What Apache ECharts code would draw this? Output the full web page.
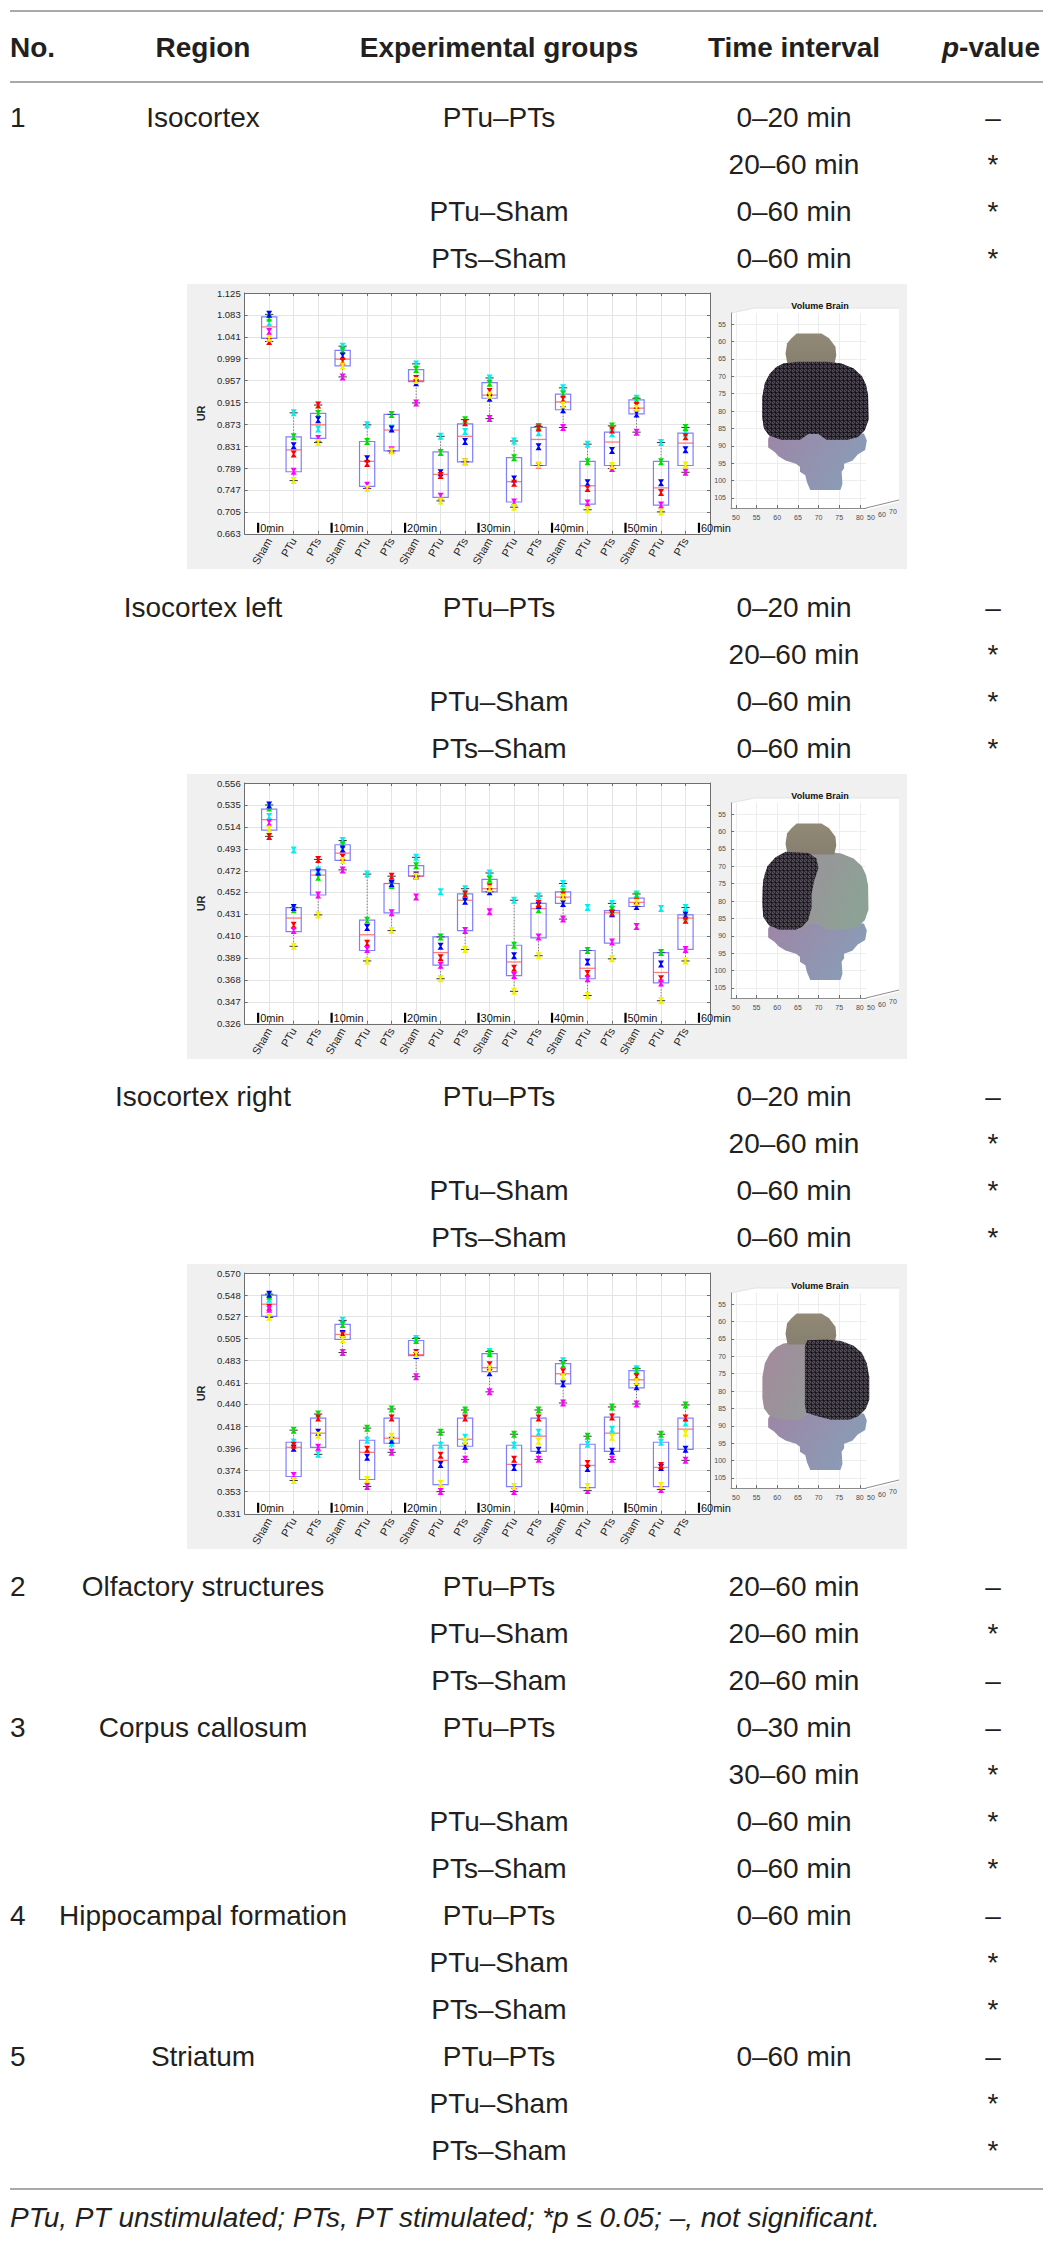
<!DOCTYPE html>
<html><head><meta charset="utf-8">
<script src="https://cdn.jsdelivr.net/npm/echarts@6/dist/echarts.min.js"></script>
<style>
html,body{margin:0;padding:0;background:#fff;}
body{width:1050px;height:2244px;position:relative;overflow:hidden;font-family:"Liberation Sans",Arial,Helvetica,sans-serif;color:#231f20;}
.t{position:absolute;white-space:nowrap;font-size:28px;line-height:34px;height:34px;}
.c{transform:translateX(-50%);}
.h{font-weight:bold;}
.rule{position:absolute;left:10px;width:1033px;height:2px;background:#a9a9a9;}
.panel{position:absolute;left:187px;width:720px;height:285px;}
</style></head><body>
<script>
// ---------------- table text ----------------
const headers = ['No.', 'Region', 'Experimental groups', 'Time interval', '<i>p</i>-value'];
const rowsIso = [
  ['1', 'Isocortex', 'PTu–PTs', '0–20 min', '–'],
  ['', '', '', '20–60 min', '*'],
  ['', '', 'PTu–Sham', '0–60 min', '*'],
  ['', '', 'PTs–Sham', '0–60 min', '*']
];
const rowsIsoLeft = [
  ['', 'Isocortex left', 'PTu–PTs', '0–20 min', '–'],
  ['', '', '', '20–60 min', '*'],
  ['', '', 'PTu–Sham', '0–60 min', '*'],
  ['', '', 'PTs–Sham', '0–60 min', '*']
];
const rowsIsoRight = [
  ['', 'Isocortex right', 'PTu–PTs', '0–20 min', '–'],
  ['', '', '', '20–60 min', '*'],
  ['', '', 'PTu–Sham', '0–60 min', '*'],
  ['', '', 'PTs–Sham', '0–60 min', '*']
];
const rowsRest = [
  ['2', 'Olfactory structures', 'PTu–PTs', '20–60 min', '–'],
  ['', '', 'PTu–Sham', '20–60 min', '*'],
  ['', '', 'PTs–Sham', '20–60 min', '–'],
  ['3', 'Corpus callosum', 'PTu–PTs', '0–30 min', '–'],
  ['', '', '', '30–60 min', '*'],
  ['', '', 'PTu–Sham', '0–60 min', '*'],
  ['', '', 'PTs–Sham', '0–60 min', '*'],
  ['4', 'Hippocampal formation', 'PTu–PTs', '0–60 min', '–'],
  ['', '', 'PTu–Sham', '', '*'],
  ['', '', 'PTs–Sham', '', '*'],
  ['5', 'Striatum', 'PTu–PTs', '0–60 min', '–'],
  ['', '', 'PTu–Sham', '', '*'],
  ['', '', 'PTs–Sham', '', '*']
];
const footnote = 'PTu, PT unstimulated; PTs, PT stimulated; *p ≤ 0.05; –, not significant.';

// ---------------- chart data ----------------
const categories = ['Sham','PTu','PTs','Sham','PTu','PTs','Sham','PTu','PTs','Sham','PTu','PTs','Sham','PTu','PTs','Sham','PTu','PTs'];
const timeLabels = ['0min','10min','20min','30min','40min','50min','60min'];
const subjectColors = ['#00f0f0','#00e000','#0000ff','#ff0000','#ff00ff','#f2f200'];

// Panel 1: Isocortex
const ticks1 = ['0.663','0.705','0.747','0.789','0.831','0.873','0.915','0.957','0.999','1.041','1.083','1.125'];
const q3_1  = [1.079,0.849,0.894,1.015,0.840,0.892,0.978,0.820,0.874,0.953,0.809,0.867,0.931,0.802,0.858,0.920,0.802,0.856];
const med_1 = [1.060,0.824,0.872,0.998,0.802,0.862,0.957,0.777,0.850,0.929,0.763,0.844,0.916,0.755,0.839,0.904,0.751,0.837];
const q1_1  = [1.038,0.782,0.846,0.985,0.754,0.822,0.955,0.733,0.801,0.923,0.724,0.794,0.901,0.720,0.794,0.893,0.718,0.794];
const hi_1  = [1.084,0.895,0.910,1.023,0.872,0.892,0.989,0.850,0.882,0.962,0.841,0.869,0.943,0.835,0.870,0.923,0.838,0.867];
const lo_1  = [1.032,0.765,0.838,0.964,0.750,0.822,0.914,0.726,0.801,0.884,0.714,0.794,0.867,0.709,0.788,0.858,0.705,0.781];
const cyan_1    = [1.068,0.895,0.864,1.023,0.872,0.866,0.989,0.850,0.859,0.962,0.841,0.857,0.943,0.835,0.855,0.923,0.838,0.856];
const green_1   = [1.077,0.849,0.894,1.015,0.840,0.892,0.978,0.819,0.882,0.952,0.809,0.869,0.931,0.801,0.870,0.919,0.801,0.867];
const blue_1    = [1.084,0.832,0.882,1.004,0.807,0.864,0.953,0.780,0.840,0.923,0.768,0.830,0.901,0.761,0.823,0.893,0.761,0.824];
const red_1     = [1.032,0.816,0.910,0.994,0.798,0.823,0.961,0.775,0.876,0.936,0.760,0.866,0.921,0.750,0.862,0.909,0.742,0.849];
const magenta_1 = [1.051,0.783,0.846,0.964,0.756,0.824,0.914,0.735,0.801,0.884,0.724,0.794,0.867,0.722,0.788,0.858,0.718,0.781];
const yellow_1  = [1.038,0.765,0.838,0.985,0.750,0.822,0.957,0.726,0.801,0.929,0.714,0.795,0.910,0.709,0.794,0.904,0.705,0.795];

// Panel 2: Isocortex left
const ticks2 = ['0.326','0.347','0.368','0.389','0.410','0.431','0.452','0.472','0.493','0.514','0.535','0.556'];
const q3_2  = [0.531,0.437,0.473,0.497,0.425,0.460,0.477,0.409,0.450,0.464,0.401,0.441,0.452,0.396,0.434,0.446,0.394,0.430];
const med_2 = [0.521,0.427,0.468,0.489,0.411,0.460,0.467,0.394,0.444,0.455,0.385,0.436,0.447,0.379,0.432,0.442,0.375,0.427];
const q1_2  = [0.511,0.414,0.449,0.482,0.396,0.432,0.467,0.382,0.415,0.452,0.372,0.408,0.441,0.369,0.403,0.438,0.365,0.397];
const hi_2  = [0.535,0.437,0.483,0.501,0.469,0.467,0.485,0.409,0.455,0.470,0.444,0.448,0.460,0.396,0.441,0.450,0.394,0.437];
const lo_2  = [0.505,0.400,0.430,0.473,0.386,0.415,0.467,0.369,0.397,0.452,0.357,0.391,0.426,0.353,0.388,0.438,0.348,0.386];
const cyan_2    = [0.524,0.492,0.473,0.501,0.469,0.459,0.485,0.452,0.455,0.470,0.444,0.448,0.460,0.437,0.441,0.450,0.436,0.437];
const green_2   = [0.532,0.435,0.466,0.497,0.425,0.458,0.477,0.409,0.447,0.464,0.401,0.435,0.452,0.396,0.435,0.448,0.394,0.428];
const blue_2    = [0.535,0.437,0.471,0.493,0.418,0.460,0.468,0.400,0.443,0.452,0.391,0.439,0.441,0.385,0.431,0.438,0.383,0.430];
const red_2     = [0.505,0.420,0.483,0.485,0.403,0.467,0.467,0.389,0.450,0.457,0.379,0.441,0.449,0.374,0.432,0.443,0.369,0.425];
const magenta_2 = [0.518,0.415,0.449,0.473,0.397,0.432,0.447,0.382,0.415,0.433,0.372,0.409,0.426,0.369,0.404,0.419,0.365,0.397];
const yellow_2  = [0.512,0.400,0.430,0.482,0.386,0.415,0.467,0.369,0.397,0.455,0.357,0.391,0.447,0.353,0.388,0.442,0.348,0.386];

// Panel 3: Isocortex right
const ticks3 = ['0.331','0.353','0.374','0.396','0.418','0.440','0.461','0.483','0.505','0.527','0.548','0.570'];
const q3_3  = [0.548,0.402,0.426,0.519,0.404,0.426,0.503,0.399,0.426,0.490,0.399,0.426,0.480,0.400,0.427,0.473,0.402,0.426];
const med_3 = [0.539,0.397,0.411,0.509,0.392,0.406,0.489,0.384,0.405,0.476,0.380,0.408,0.470,0.379,0.411,0.464,0.377,0.415];
const q1_3  = [0.527,0.368,0.397,0.504,0.365,0.401,0.488,0.360,0.398,0.472,0.358,0.393,0.460,0.357,0.393,0.456,0.358,0.395];
const hi_3  = [0.549,0.414,0.430,0.523,0.416,0.435,0.505,0.412,0.434,0.492,0.410,0.434,0.483,0.408,0.437,0.475,0.410,0.439];
const lo_3  = [0.526,0.364,0.390,0.491,0.358,0.392,0.467,0.353,0.385,0.452,0.353,0.385,0.441,0.354,0.385,0.440,0.355,0.384];
const cyan_3    = [0.544,0.402,0.390,0.523,0.404,0.401,0.505,0.399,0.407,0.492,0.399,0.412,0.483,0.400,0.415,0.475,0.402,0.421];
const green_3   = [0.547,0.414,0.430,0.519,0.416,0.435,0.503,0.412,0.434,0.490,0.410,0.434,0.479,0.408,0.437,0.473,0.410,0.439];
const blue_3    = [0.549,0.396,0.412,0.510,0.387,0.404,0.488,0.380,0.398,0.471,0.377,0.394,0.460,0.376,0.393,0.457,0.377,0.395];
const red_3     = [0.536,0.399,0.426,0.509,0.395,0.426,0.491,0.389,0.426,0.479,0.385,0.426,0.472,0.381,0.427,0.467,0.379,0.426];
const magenta_3 = [0.534,0.369,0.397,0.491,0.358,0.392,0.467,0.353,0.385,0.452,0.353,0.385,0.441,0.354,0.385,0.440,0.355,0.384];
const yellow_3  = [0.526,0.364,0.409,0.504,0.365,0.408,0.489,0.361,0.403,0.475,0.358,0.403,0.467,0.358,0.407,0.462,0.359,0.411];

// Brain views (axis coordinates of the MATLAB "Volume Brain" plot)
const brainXTicks = [50,55,60,65,70,75,80];
const brainYTicks = [55,60,65,70,75,80,85,90,95,100,105];
const brainDepthTicks = ['50','60','70'];
const brainLower = [[58.5,86.5],[57.8,88],[57.8,90.5],[59.3,91.7],[60.4,93.1],[62,94.2],[64.5,95.2],[65.5,96],[65.5,97.5],[66.8,98.5],[67.2,100.5],[68,102.7],[75.3,102.7],[75.8,101],[75.6,97.5],[76.2,96.5],[76.2,95.2],[78.2,94.3],[79.5,92.5],[81.3,91.2],[81.7,88.5],[81,86.5]];
const brainCortex = [[61.5,66.3],[65,65.8],[72,65.8],[75.5,66.3],[78.5,67.8],[80.5,70],[81.5,72.5],[82,75.5],[82.1,82.5],[81.2,85.5],[79.5,87.5],[77,88.3],[72,88.3],[70,86.6],[67.5,86.6],[65.5,88.3],[61,88.3],[58,87],[56.8,85],[56.4,82],[56.4,76],[57,72],[58.2,69.3],[59.8,67.3]];
const brainOlfactory = [[64.7,57.7],[70.7,57.7],[72.5,59],[74.1,61.5],[74.3,64],[73.8,66.6],[62.5,66.6],[62,63.5],[62.4,60.5],[63.5,59]];
const hemiLeft = [[62,65.8],[67.6,66.2],[69.5,67.8],[70,70.5],[69,74],[68.3,78],[68.3,82],[67.5,85.5],[66,87.5],[64.5,88.3],[60.5,88.3],[58,87],[56.6,84.5],[56.4,80],[56.6,74],[57.6,70],[59.5,67.5]];
const hemiRight = [[67.3,65.4],[72,65.2],[75.5,65.6],[78.5,67],[80.5,69],[81.7,72],[82.3,76],[82.3,82.5],[81.5,85],[79.5,87.3],[77.5,88.3],[73,88.3],[69.5,87.2],[67,86.2],[66.7,84],[66.7,67]];

// ---------------- layout ----------------
const COLX = [10, 203, 499, 794, 993];
const ROW_H = 47;
const blocks = [
  {rows: rowsIso, y: 118},
  {rows: rowsIsoLeft, y: 608},
  {rows: rowsIsoRight, y: 1097},
  {rows: rowsRest, y: 1587}
];
const panelTops = [284, 774, 1264];

function addText(html, x, yc, cls, center) {
  const d = document.createElement('div');
  d.className = 't ' + (cls || '') + (center ? ' c' : '');
  d.style.left = x + 'px';
  d.style.top = (yc - 17) + 'px';
  d.innerHTML = html;
  document.body.appendChild(d);
  return d;
}
function addRule(y) {
  const d = document.createElement('div');
  d.className = 'rule'; d.style.top = (y - 1) + 'px';
  document.body.appendChild(d);
}
addRule(11); addRule(82); addRule(2189);
headers.forEach((h, i) => addText(h, i === 4 ? 991 : COLX[i], 48, 'h', i > 0));
blocks.forEach(b => b.rows.forEach((r, k) => {
  const y = b.y + k * ROW_H;
  r.forEach((cell, i) => { if (cell) addText(cell, COLX[i], y, '', i > 0); });
}));
const fn = addText(footnote, 10, 2218, '', false); fn.style.fontStyle = 'italic';

// hatch pattern for highlighted region
function makeHatch() {
  const cv = document.createElement('canvas'); cv.width = 8; cv.height = 8;
  const g = cv.getContext('2d');
  g.fillStyle = '#4e4654'; g.fillRect(0,0,8,8);
  g.strokeStyle = 'rgba(0,0,0,0.8)'; g.lineWidth = 0.7;
  g.beginPath();
  g.moveTo(0,0.5); g.lineTo(8,0.5); g.moveTo(0,4.5); g.lineTo(8,4.5);
  g.moveTo(0.5,0); g.lineTo(0.5,8); g.moveTo(4.5,0); g.lineTo(4.5,8);
  g.moveTo(0,0); g.lineTo(8,8); g.moveTo(4,0); g.lineTo(8,4); g.moveTo(0,4); g.lineTo(4,8);
  g.stroke();
  return cv.toDataURL();
}
const hatchURL = makeHatch();

const panels = [
  {ticks: ticks1, q3: q3_1, med: med_1, q1: q1_1, hi: hi_1, lo: lo_1,
   subj: [cyan_1, green_1, blue_1, red_1, magenta_1, yellow_1], hemi: brainCortex, full: true},
  {ticks: ticks2, q3: q3_2, med: med_2, q1: q1_2, hi: hi_2, lo: lo_2,
   subj: [cyan_2, green_2, blue_2, red_2, magenta_2, yellow_2], hemi: hemiLeft, full: false},
  {ticks: ticks3, q3: q3_3, med: med_3, q1: q1_3, hi: hi_3, lo: lo_3,
   subj: [cyan_3, green_3, blue_3, red_3, magenta_3, yellow_3], hemi: hemiRight, full: false}
];

const FONT = '"Liberation Sans", Arial, Helvetica, sans-serif';
const AX = '#6e6e6e';
const GRIDC = '#e4e4e4';

panels.forEach((P, pi) => {
  const el = document.createElement('div');
  el.className = 'panel'; el.style.top = panelTops[pi] + 'px';
  document.body.appendChild(el);
  const chart = echarts.init(el, null, {renderer: 'svg', width: 720, height: 285});
  const tv = P.ticks.map(Number);
  const yMin = tv[0], yMax = tv[tv.length - 1];
  const tickFmt = v => { const i = tv.findIndex(t => Math.abs(t - v) < 1e-6); return i >= 0 ? P.ticks[i] : ''; };

  const boxData = categories.map((c, i) => [i + 1, P.lo[i], P.q1[i], P.med[i], P.q3[i], P.hi[i]]);

  const series = [];
  series.push({
    type: 'custom', xAxisIndex: 0, yAxisIndex: 0, z: 2, silent: true,
    encode: {x: 0, y: [1, 5]},
    data: boxData,
    renderItem: (params, api) => {
      const x = api.value(0), lo = api.value(1), q1 = api.value(2), md = api.value(3), q3 = api.value(4), hi = api.value(5);
      const c = (xx, yy) => api.coord([xx, yy]);
      const bl = c(x - 0.31, q1), tr = c(x + 0.31, q3);
      const pLo = c(x, lo), pHi = c(x, hi), pQ1 = c(x, q1), pQ3 = c(x, q3);
      const capL = c(x - 0.17, lo)[0], capR = c(x + 0.17, lo)[0];
      const dash = {stroke: 'rgba(0,0,0,0.45)', lineWidth: 1, lineDash: [1.5, 1.5], fill: null};
      const ch = [];
      if (hi > q3) ch.push({type: 'line', shape: {x1: pQ3[0], y1: pQ3[1], x2: pHi[0], y2: pHi[1]}, style: dash});
      if (lo < q1) ch.push({type: 'line', shape: {x1: pQ1[0], y1: pQ1[1], x2: pLo[0], y2: pLo[1]}, style: dash});
      ch.push({type: 'line', shape: {x1: capL, y1: pHi[1], x2: capR, y2: pHi[1]}, style: {stroke: '#333', lineWidth: 1}});
      ch.push({type: 'line', shape: {x1: capL, y1: pLo[1], x2: capR, y2: pLo[1]}, style: {stroke: '#333', lineWidth: 1}});
      ch.push({type: 'rect', shape: {x: bl[0], y: tr[1], width: tr[0] - bl[0], height: bl[1] - tr[1]},
               style: {fill: null, stroke: 'rgba(60,60,255,0.65)', lineWidth: 1.2}});
      const m1 = c(x - 0.31, md), m2 = c(x + 0.31, md);
      ch.push({type: 'line', shape: {x1: m1[0], y1: m1[1], x2: m2[0], y2: m2[1]}, style: {stroke: 'rgba(255,80,80,0.75)', lineWidth: 1.3}});
      return {type: 'group', children: ch};
    }
  });
  P.subj.forEach((arr, si) => {
    series.push({
      type: 'scatter', xAxisIndex: 0, yAxisIndex: 0, z: 3, silent: true,
      symbol: 'path://M0,0L10,0L6.3,5L10,10L0,10L3.7,5Z', symbolSize: [6, 7],
      itemStyle: {color: subjectColors[si], opacity: 1},
      data: arr.map((v, i) => [i + 1, v])
    });
  });
  series.push({
    type: 'custom', xAxisIndex: 0, yAxisIndex: 0, z: 4, clip: false, silent: true,
    data: timeLabels.map((t, i) => [3 * i + 0.55, yMin]),
    renderItem: (params, api) => {
      const p = api.coord([api.value(0), api.value(1)]);
      return {type: 'group', children: [
        {type: 'line', shape: {x1: p[0], y1: p[1] - 11, x2: p[0], y2: p[1] - 1}, style: {stroke: '#000', lineWidth: 2.2}},
        {type: 'text', style: {text: timeLabels[params.dataIndex], x: p[0] + 2, y: p[1] - 6,
          align: 'left', verticalAlign: 'middle', fill: '#111', fontSize: 11, fontFamily: FONT}}
      ]};
    }
  });

  // brain layers
  const layers = [
    {pts: brainLower, fill: new echarts.graphic.LinearGradient(0, 0, 1, 0.4, [{offset: 0, color: '#9d86a6'}, {offset: 1, color: '#8a9cb6'}])},
    {pts: brainCortex, fill: P.full ? '#4a4250' : new echarts.graphic.LinearGradient(0, 0, 1, 0.3, [{offset: 0, color: '#a48a9c'}, {offset: 1, color: '#8da196'}])},
    {pts: brainOlfactory, fill: new echarts.graphic.LinearGradient(0, 0, 0, 1, [{offset: 0, color: '#928a76'}, {offset: 1, color: '#877f6f'}])},
    {pts: P.hemi, fill: {image: hatchURL, repeat: 'repeat'}, opacity: 0.95}
  ];
  series.push({
    type: 'custom', xAxisIndex: 2, yAxisIndex: 2, z: 2, silent: true,
    data: layers.map(l => l.pts[0]),
    renderItem: (params, api) => {
      const L = layers[params.dataIndex];
      const pts = L.pts.map(p => api.coord(p));
      return {type: 'polygon', shape: {points: pts}, style: {fill: L.fill, stroke: null, opacity: L.opacity || 1}};
    }
  });

  const option = {
    backgroundColor: '#f0f0f0',
    animation: false,
    textStyle: {fontFamily: FONT},
    title: {text: 'Volume Brain', left: 628, top: 12, textAlign: 'center',
            textStyle: {fontSize: 9, fontWeight: 'bold', color: '#111', fontFamily: FONT}},
    graphic: [
      {type: 'polygon', z: -1, silent: true, shape: {points: [[544, 29], [568, 24], [712, 24], [712, 218], [679, 226], [544, 224]]}, style: {fill: '#ffffff'}},
      {type: 'polyline', silent: true, shape: {points: [[679, 224], [712, 216]]}, style: {stroke: '#6e6e6e', lineWidth: 0.8, fill: null}},
      {type: 'polyline', silent: true, shape: {points: [[544, 29], [568, 24], [712, 24]]}, style: {stroke: '#dddddd', lineWidth: 0.8, fill: null}}
    ].concat(brainDepthTicks.map((t, i) => ({
      type: 'text', silent: true, x: 684 + i * 11, y: 233 - i * 3,
      style: {text: t, fontSize: 7, fill: '#4d4d4d', fontFamily: FONT, align: 'center', verticalAlign: 'middle'}
    }))),
    grid: [
      {left: 45, top: 9, width: 478, height: 244, show: true, backgroundColor: '#ffffff', borderWidth: 0, containLabel: false},
      {left: 544, top: 29, width: 135, height: 195, show: false, containLabel: false}
    ],
    xAxis: [
      {type: 'value', gridIndex: 0, position: 'bottom', min: 0, max: 19, interval: 1,
       axisLine: {show: true, lineStyle: {color: AX, width: 1}},
       axisTick: {show: true, inside: true, length: 3, lineStyle: {color: AX}},
       axisLabel: {rotate: 60, fontSize: 11, color: '#262626', margin: 5, fontFamily: FONT,
                   formatter: v => categories[Math.round(v) - 1] || ''},
       splitLine: {show: true, lineStyle: {color: GRIDC, width: 1}}},
      {type: 'value', gridIndex: 0, position: 'top', min: 0, max: 19, interval: 1,
       axisLine: {show: true, onZero: false, lineStyle: {color: AX, width: 1}},
       axisTick: {show: true, inside: true, length: 3, lineStyle: {color: AX}},
       axisLabel: {show: false}, splitLine: {show: false}},
      {type: 'value', gridIndex: 1, position: 'bottom', min: 48.8, max: 81.5,
       axisLine: {show: true, onZero: false, lineStyle: {color: AX, width: 0.8}},
       axisTick: {show: true, inside: true, length: 3, customValues: brainXTicks, lineStyle: {color: AX}},
       axisLabel: {customValues: brainXTicks, fontSize: 7, color: '#4d4d4d', margin: 6, fontFamily: FONT},
       splitLine: {show: true, lineStyle: {color: '#e8e8e8', width: 0.8}}}
    ],
    yAxis: [
      {type: 'value', gridIndex: 0, position: 'left', min: yMin, max: yMax,
       axisLine: {show: true, onZero: false, lineStyle: {color: AX, width: 1}},
       axisTick: {show: true, inside: true, length: 3, customValues: tv, lineStyle: {color: AX}},
       axisLabel: {customValues: tv, formatter: tickFmt, fontSize: 9.5, color: '#262626', margin: 4, fontFamily: FONT},
       splitLine: {show: true, lineStyle: {color: GRIDC, width: 1}},
       name: 'UR', nameLocation: 'middle', nameGap: 30, nameRotate: 90,
       nameTextStyle: {fontSize: 11, fontWeight: 'bold', color: '#262626', fontFamily: FONT}},
      {type: 'value', gridIndex: 0, position: 'right', min: yMin, max: yMax,
       axisLine: {show: true, onZero: false, lineStyle: {color: AX, width: 1}},
       axisTick: {show: true, inside: true, length: 3, customValues: tv, lineStyle: {color: AX}},
       axisLabel: {show: false}, splitLine: {show: false}},
      {type: 'value', gridIndex: 1, position: 'left', inverse: true, min: 51.8, max: 107.9,
       axisLine: {show: true, onZero: false, lineStyle: {color: AX, width: 0.8}},
       axisTick: {show: true, inside: true, length: 3, customValues: brainYTicks, lineStyle: {color: AX}},
       axisLabel: {customValues: brainYTicks, fontSize: 7, color: '#4d4d4d', margin: 5, fontFamily: FONT},
       splitLine: {show: true, lineStyle: {color: '#e8e8e8', width: 0.8}}}
    ],
    series: series
  };
  chart.setOption(option);
});
</script>
</body></html>
